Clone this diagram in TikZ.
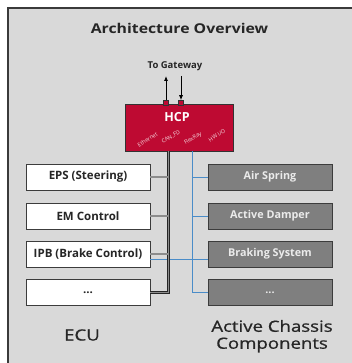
\documentclass[tikz,border=0pt]{standalone}
\usepackage{fontspec}
\usepackage{graphicx}
\setmainfont{Open Sans}
\usetikzlibrary{calc,arrows.meta}
\definecolor{framegray}{HTML}{D9D9D9}
\definecolor{framebord}{HTML}{3A3A3A}
\definecolor{hcpred}{HTML}{BE0A32}
\definecolor{compgray}{HTML}{7F7F7F}
\definecolor{busblue}{HTML}{4A8CC8}
\definecolor{boxbord}{HTML}{3C3C3C}
\newcommand{\widetxt}[2][1.2]{\scalebox{#1}[1]{#2}}
\begin{document}
\begin{tikzpicture}[x=1pt,y=-1pt,
  ecubox/.style={draw=boxbord, fill=white, line width=0.9pt, minimum width=124pt, minimum height=26pt, inner sep=0pt, font=\fontsize{11.5}{13}\selectfont\bfseries, text=black!85},
  compbox/.style={draw=boxbord, fill=compgray, line width=0.9pt, minimum width=124pt, minimum height=26pt, inner sep=0pt, font=\fontsize{10.8}{12}\selectfont\bfseries, text=white!92!black},
  hcpbox/.style={draw=black!80, fill=hcpred, line width=0.8pt, minimum width=108pt, minimum height=47pt, inner sep=0pt},
  portsq/.style={draw=black!80, fill=hcpred, line width=0.5pt, minimum size=5pt, inner sep=0pt},
  portlabel/.style={text=white!85!hcpred, font=\fontsize{5.5}{6}\selectfont, rotate=32, inner sep=0pt},
  busline/.style={draw=black!85, double=black!45, double distance=1.4pt, line width=0.6pt},
  flexline/.style={draw=busblue, line width=0.9pt},
  gwarrow/.style={draw=black, line width=0.8pt, -{Latex[length=5pt,width=4pt]}},
  bigtext/.style={font=\fontsize{15.5}{19}\selectfont\addfontfeature{FakeBold=0.8}, text=black!85, inner sep=0pt}
]
\useasboundingbox (0,0) rectangle (352,363);
\clip (0,0) rectangle (352,363);
\draw[fill=framegray, draw=framebord, line width=1.3pt] (8,8) rectangle (364,376);

\node[font=\fontsize{13.5}{15}\selectfont\bfseries, text=black!85, inner sep=0pt] (title) at (179.5,28) {\widetxt[1.17]{Architecture Overview}};

% HCP
\node[hcpbox] (hcp) at (179,127.5) {};
\node[font=\fontsize{12.5}{14}\selectfont\bfseries, text=white, inner sep=0pt] (hcplabel) at (177,117) {HCP};
\node[portlabel] (eth) at (147.5,139.5) {Ethernet};
\node[portlabel] (can) at (171,137) {CAN\_FD};
\node[portlabel] (flx) at (193,138.5) {FlexRay};
\node[portlabel] (hwio) at (217,135.5) {HW I/O};

\node[portsq] (p1) at (166,103) {};
\node[portsq] (p2) at (181,103) {};
\coordinate (gwup) at (166,76);
\coordinate (gwdown) at (181,76);
\draw[gwarrow] (p1.north) -- (gwup);
\draw[gwarrow] (gwdown) -- (p2.north);
\node[font=\fontsize{9.5}{11}\selectfont\bfseries, text=black!85, inner sep=0pt] (gw) at (175,66) {To Gateway};

% ECU boxes
\node[ecubox] (ecu1) at (88,177) {EPS (Steering)};
\node[ecubox] (ecu2) at (88,216) {EM Control};
\node[ecubox] (ecu3) at (88,254) {IPB (Brake Control)};
\node[ecubox] (ecu4) at (88,292.5) {...};

% Active chassis components
\node[compbox] (act1) at (270,177) {Air Spring};
\node[compbox] (act2) at (270,216) {Active Damper};
\node[compbox] (act3) at (270,254) {Braking System};
\node[compbox] (act4) at (270,292.5) {...};

% FlexRay bus (blue)
\coordinate (fxtop) at (192,151);
\draw[flexline] (fxtop) |- (act4.west);
\draw[flexline] (act1.west -| fxtop) -- (act1.west);
\draw[flexline] (act2.west -| fxtop) -- (act2.west);
\draw[flexline] ($(ecu3.east)+(0,5.5)$) -- ($(act3.west)+(0,5.5)$);

% Ethernet / CAN bus (black)
\coordinate (bustop) at (168.5,151);
\draw[busline] (bustop) |- (ecu4.east);
\draw[busline] (ecu1.east) -- (ecu1.east -| bustop);
\draw[busline] (ecu2.east) -- (ecu2.east -| bustop);
\draw[busline] (ecu3.east) -- (ecu3.east -| bustop);

\node[bigtext] (ecutxt) at (82,335) {\widetxt{ECU}};
\node[bigtext] (acctxt1) at (272,326) {\widetxt{Active Chassis}};
\node[bigtext] (acctxt2) at (272,345) {\widetxt{Components}};
\end{tikzpicture}
\end{document}
